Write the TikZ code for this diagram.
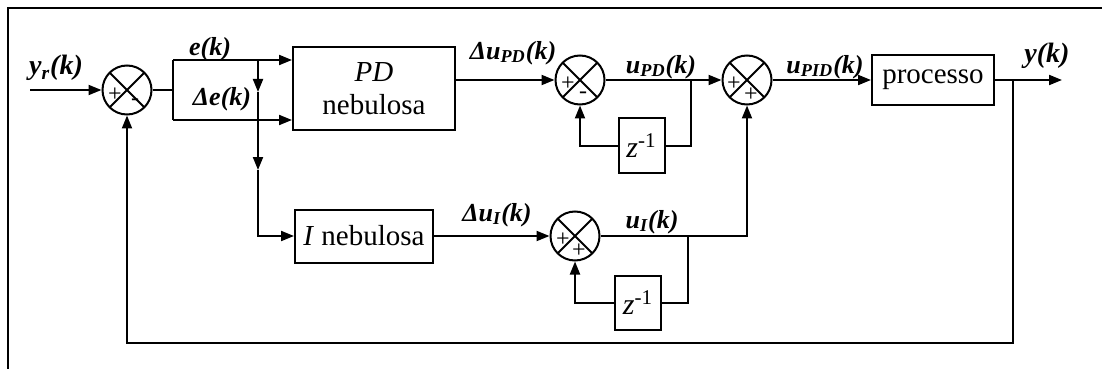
\documentclass[tikz,border=0pt]{standalone}
\usepackage{fontspec}
\setmainfont{Liberation Serif}
\usetikzlibrary{arrows.meta}

\begin{document}
\begin{tikzpicture}[x=0.5pt, y=-0.5pt, line width=1pt,
  sumnode/.style={draw, circle, minimum size=24.5pt, inner sep=0pt,
    path picture={\draw (path picture bounding box.north west) -- (path picture bounding box.south east)
      (path picture bounding box.north east) -- (path picture bounding box.south west);}},
  block/.style={draw, inner sep=2pt, align=center, font=\fontsize{14.5}{16.5}\selectfont},
  zbox/.style={block, minimum width=23pt, minimum height=27pt, font=\fontsize{15}{16}\selectfont},
  sgn/.style={inner sep=0pt, font=\fontsize{12}{12}\selectfont},
  lbl/.style={inner sep=0pt, font=\fontsize{13}{15}\selectfont\bfseries\itshape},
  arr/.style={-{Triangle[length=6.5pt, width=5pt]}}]

  \useasboundingbox (0,0) rectangle (1102,369);

  % frame (left and top edge only)
  \draw (8,369) -- (8,8) -- (1102,8);

  % summing junctions
  \node[sumnode] (sum1) at (127,90) {};
  \node[sgn] at ([shift={(-12,5)}]sum1.center) {+};
  \node[sgn] at ([shift={(8,12)}]sum1.center) {-};
  \node[sumnode] (sum2) at (580,80) {};
  \node[sgn] at ([shift={(-12,4)}]sum2.center) {+};
  \node[sgn] at ([shift={(3,15)}]sum2.center) {-};
  \node[sumnode] (sum3) at (747,80) {};
  \node[sgn] at ([shift={(-13,4)}]sum3.center) {+};
  \node[sgn] at ([shift={(4,15)}]sum3.center) {+};
  \node[sumnode] (sum4) at (575,236) {};
  \node[sgn] at ([shift={(-12,4)}]sum4.center) {+};
  \node[sgn] at ([shift={(4,15)}]sum4.center) {+};

  % blocks
  \node[block, minimum width=81pt, minimum height=41.5pt] (pd) at (374,88.5) {\textit{PD}\\nebulosa};
  \node[block, minimum width=69pt, minimum height=26.5pt] (inb) at (364,236) {\textit{I} nebulosa};
  \node[block, minimum width=61pt, minimum height=25pt] (proc) at (933,80) {processo};
  \node[zbox] (zd) at (641.5,145.5) {\textit{z}\textsuperscript{-1}};
  \node[zbox] (zi) at (638,302.5) {\textit{z}\textsuperscript{-1}};

  % branch points
  \coordinate (yin) at (30,90);
  \coordinate (sp) at (173,90);
  \coordinate (et) at (173,60);
  \coordinate (eb) at (173,120);
  \coordinate (dv) at (258,60);
  \coordinate (m1) at (258,92);
  \coordinate (m2) at (258,170);
  \coordinate (bpd) at (691,80);
  \coordinate (bi) at (688,236);
  \coordinate (bo) at (1013,80);
  \coordinate (fb) at (1013,343);
  \coordinate (yout) at (1062,80);

  % connections
  \draw[arr] (yin) -- (sum1.west);
  \draw (sum1.east) -- (sp);
  \draw (et) -- (eb);
  \draw[arr] (et) -- (et -| pd.west);
  \draw[arr] (eb) -- (eb -| pd.west);
  \draw[arr] (dv) -- (m1);
  \draw[arr] (m1) -- (m2);
  \draw[arr] (m2) |- (inb.west);
  \draw[arr] (pd.east |- sum2) -- (sum2.west);
  \draw[arr] (sum2.east) -- (sum3.west);
  \draw (bpd) |- (zd.east);
  \draw[arr] (zd.west) -| (sum2.south);
  \draw[arr] (sum3.east) -- (proc.west);
  \draw[arr] (proc.east) -- (yout);
  \draw[arr] (bo) -- (fb) -| (sum1.south);
  \draw[arr] (inb.east) -- (sum4.west);
  \draw[arr] (sum4.east) -| (sum3.south);
  \draw (bi) |- (zi.east);
  \draw[arr] (zi.west) -| (sum4.south);

  % signal labels
  \node[lbl, font=\fontsize{14}{16}\selectfont\bfseries\itshape] (lyr) at (56,68) {y\textsubscript{r}(k)};
  \node[lbl] (le) at (210,49) {e(k)};
  \node[lbl] (lde) at (222,99) {Δe(k)};
  \node[lbl] (lupd) at (513,53) {Δu\textsubscript{PD}(k)};
  \node[lbl] (lpd) at (661,67) {u\textsubscript{PD}(k)};
  \node[lbl] (lpid) at (825,67) {u\textsubscript{PID}(k)};
  \node[lbl, font=\fontsize{14}{16}\selectfont\bfseries\itshape] (ly) at (1047,56) {y(k)};
  \node[lbl] (lui) at (497,215) {Δu\textsubscript{I}(k)};
  \node[lbl] (li) at (652,222) {u\textsubscript{I}(k)};

\end{tikzpicture}
\end{document}
